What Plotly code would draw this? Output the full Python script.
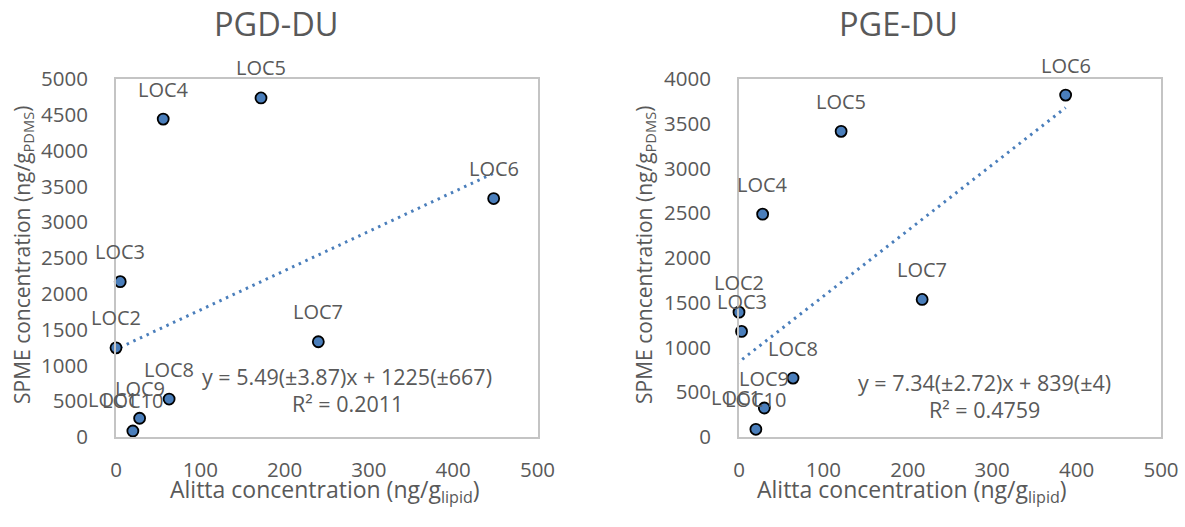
import plotly.graph_objects as go

# ---------------- data ----------------
labels = ["LOC1", "LOC2", "LOC3", "LOC4", "LOC5", "LOC6", "LOC7", "LOC8", "LOC9", "LOC10"]

pgd_x = [-3, 0, 5, 56, 172, 448, 240, 63, 28, 20]
pgd_y = [110, 1245, 2170, 4440, 4735, 3330, 1330, 530, 262, 84]

pge_x = [-3, 0, 3, 28, 121, 387, 217, 64, 30, 20]
pge_y = [108, 1395, 1180, 2490, 3415, 3820, 1537, 658, 324, 86]

pgd_fit = {"slope": 5.49, "intercept": 1225}
pge_fit = {"slope": 7.34, "intercept": 839}

pgd_eq = ["y = 5.49(±3.87)x + 1225(±667)", "R² = 0.2011"]
pge_eq = ["y = 7.34(±2.72)x + 839(±4)", "R² = 0.4759"]

titles = ["PGD-DU", "PGE-DU"]
x_ticks = [0, 100, 200, 300, 400, 500]
pgd_y_ticks = [0, 500, 1000, 1500, 2000, 2500, 3000, 3500, 4000, 4500, 5000]
pge_y_ticks = [0, 500, 1000, 1500, 2000, 2500, 3000, 3500, 4000]

# ---------------- style ----------------
W, H = 1185, 527
FONT = "Open Sans"
TXT = "#595959"
BLUE = "#4a7ebb"
AXIS = "#c4c4c4"
X_RANGE = [0, 500]

fig = go.Figure()

panels = [
    dict(x=pgd_x, y=pgd_y, fit=pgd_fit, eq=pgd_eq, xa="x", ya="y", yt=pgd_y_ticks,
         dom=(116, 537.5), eqpx=(347, 376), title_cx=276, ytitle_cx=23, xtitle_cx=325),
    dict(x=pge_x, y=pge_y, fit=pge_fit, eq=pge_eq, xa="x2", ya="y2", yt=pge_y_ticks,
         dom=(739, 1161), eqpx=(984, 382), title_cx=898, ytitle_cx=645, xtitle_cx=912),
]

top_px, bot_px = 79, 437

for i, p in enumerate(panels):
    # trendline over the data x-range
    x0, x1 = min(p["x"]), max(p["x"])
    fx = [x0, x1]
    fy = [p["fit"]["slope"] * v + p["fit"]["intercept"] for v in fx]
    fig.add_trace(go.Scatter(x=fx, y=fy, mode="lines", xaxis=p["xa"], yaxis=p["ya"],
                             line=dict(color=BLUE, width=3, dash="2.5px,4.8px"),
                             cliponaxis=False, showlegend=False, hoverinfo="skip"))
    fig.add_trace(go.Scatter(x=p["x"], y=p["y"], mode="markers", xaxis=p["xa"], yaxis=p["ya"],
                             marker=dict(size=11, color=BLUE, line=dict(color="black", width=1.8)),
                             cliponaxis=False, showlegend=False, text=labels))
    # data labels; points just left of the axis start are anchored at the axis edge
    # and shifted by the axis scale so they stay visible
    px_per_unit = (p["dom"][1] - p["dom"][0]) / (X_RANGE[1] - X_RANGE[0])
    for lab, xv, yv in zip(labels, p["x"], p["y"]):
        xa = max(xv, X_RANGE[0])
        fig.add_annotation(x=xa, y=yv, xref=p["xa"], yref=p["ya"], text=lab, showarrow=False,
                           xshift=(xv - xa) * px_per_unit, yshift=30,
                           font=dict(family=FONT, size=20, color=TXT))
    # equation text
    ex, ey = p["eqpx"]
    for k, line in enumerate(p["eq"]):
        fig.add_annotation(x=ex / W, y=1 - (ey + 27 * k) / H, xref="paper", yref="paper",
                           text=line, showarrow=False, xanchor="center", yanchor="middle",
                           font=dict(family=FONT, size=21.5, color=TXT))
    # panel title
    fig.add_annotation(x=p["title_cx"] / W, y=1 - 24 / H, xref="paper", yref="paper",
                       text=titles[i], showarrow=False, xanchor="center", yanchor="middle",
                       font=dict(family=FONT, size=32.5, color=TXT))
    # axis titles
    fig.add_annotation(x=p["ytitle_cx"] / W, y=1 - 255 / H, xref="paper", yref="paper",
                       text="SPME concentration (ng/g<sub>PDMS</sub>)", textangle=-90,
                       showarrow=False, xanchor="center", yanchor="middle",
                       font=dict(family=FONT, size=21, color=TXT))
    fig.add_annotation(x=p["xtitle_cx"] / W, y=1 - 490 / H, xref="paper", yref="paper",
                       text="Alitta concentration (ng/g<sub>lipid</sub>)",
                       showarrow=False, xanchor="center", yanchor="middle",
                       font=dict(family=FONT, size=23, color=TXT))

def xaxis(dom, anchor):
    return dict(domain=[dom[0] / W, dom[1] / W], range=X_RANGE, tickvals=x_ticks,
                showgrid=False, zeroline=False, showline=True, linecolor=AXIS, linewidth=2,
                mirror=True, ticks="", ticklabelstandoff=13, anchor=anchor, automargin=False,
                tickfont=dict(family=FONT, size=20.5, color=TXT))

def yaxis(ticks, anchor):
    return dict(domain=[1 - bot_px / H, 1 - top_px / H], range=[0, ticks[-1]], tickvals=ticks,
                showgrid=False, zeroline=False, showline=True, linecolor=AXIS, linewidth=2,
                mirror=True, ticks="", ticklabelstandoff=22, anchor=anchor, automargin=False,
                tickfont=dict(family=FONT, size=20.5, color=TXT))

fig.update_layout(
    width=W, height=H,
    margin=dict(l=0, r=0, t=0, b=0, autoexpand=False),
    paper_bgcolor="white", plot_bgcolor="white",
    xaxis=xaxis(panels[0]["dom"], "y"),
    yaxis=yaxis(pgd_y_ticks, "x"),
    xaxis2=xaxis(panels[1]["dom"], "y2"),
    yaxis2=yaxis(pge_y_ticks, "x2"),
    font=dict(family=FONT, color=TXT),
    showlegend=False,
)

fig.write_html("out.html")
